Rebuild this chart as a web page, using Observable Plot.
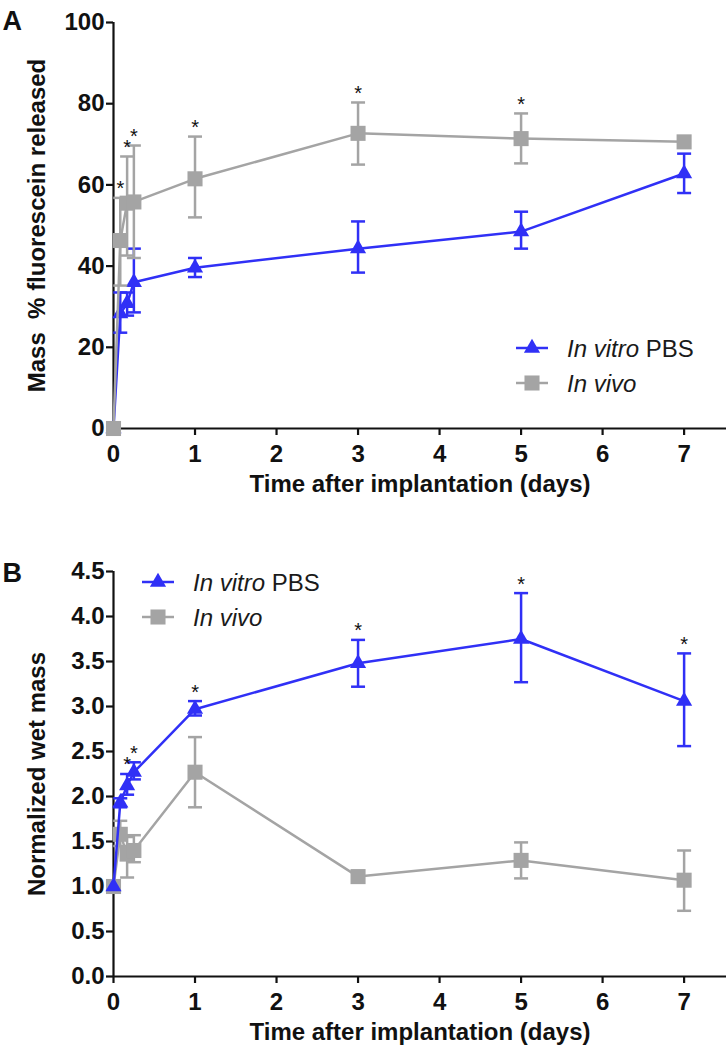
<!DOCTYPE html>
<html><head><meta charset="utf-8">
<script src="https://cdn.jsdelivr.net/npm/d3@7"></script>
<script src="https://cdn.jsdelivr.net/npm/@observablehq/plot@0.6"></script>
<style>
body{margin:0;background:#fff;}
#wrap{width:726px;height:1050px;}
svg{display:block;}
</style></head><body><div id="wrap"></div>
<script>
// ---------- data ----------
const days = [0, 0.083, 0.167, 0.25, 1, 3, 5, 7];
const xTicks = [0, 1, 2, 3, 4, 5, 6, 7];
const seriesNames = ["In vitro PBS", "In vivo"];

// Panel A: Mass % fluorescein released
const aVitro   = [0, 28.3, 30.8, 36.0, 39.6, 44.3, 48.5, 62.8];
const aVitroLo = [null, 23.6, 27.8, 28.6, 37.3, 38.4, 44.3, 58.0];
const aVitroHi = [null, 33.5, 33.5, 44.3, 42.0, 51.0, 53.4, 67.7];
const aVivo    = [0, 46.3, 55.5, 55.8, 61.5, 72.7, 71.4, 70.6];
const aVivoLo  = [null, 35.2, 42.6, 42.0, 52.0, 65.0, 65.3, null];
const aVivoHi  = [null, 56.8, 67.0, 69.7, 71.9, 80.3, 77.6, null];
const aStars   = [false, true, true, true, true, true, true, false]; // above In vivo
const aYTicks  = [0, 20, 40, 60, 80, 100];

// Panel B: Normalized wet mass
const bVitro   = [1.0, 1.93, 2.12, 2.27, 2.97, 3.48, 3.75, 3.06];
const bVitroLo = [null, 1.88, 2.02, 2.19, 2.90, 3.22, 3.27, 2.56];
const bVitroHi = [null, 1.98, 2.25, 2.38, 3.06, 3.74, 4.26, 3.59];
const bVivo    = [1.0, 1.58, 1.36, 1.40, 2.27, 1.11, 1.29, 1.07];
const bVivoLo  = [null, 1.45, 1.10, 1.27, 1.88, null, 1.09, 0.73];
const bVivoHi  = [null, 1.73, 1.55, 1.57, 2.66, null, 1.49, 1.40];
const bStars   = [false, false, true, true, true, true, true, true]; // above In vitro
const bYTicks  = [0, 0.5, 1, 1.5, 2, 2.5, 3, 3.5, 4, 4.5];

// ---------- styling ----------
const BLUE = "#3030f6";
const GRAY = "#a4a4a4";
const FONT = "'Liberation Sans', Arial, Helvetica, sans-serif";
const capSymbol = { draw(ctx) { ctx.moveTo(-7, 0); ctx.lineTo(7, 0); } };

function rows(vals, lo, hi) {
  return days.map((d, i) => ({ day: d, v: vals[i], lo: lo[i], hi: hi[i] }));
}

function seriesMarks(data, color, symbol, r) {
  const err = data.filter(d => d.lo != null && d.hi != null);
  return [
    Plot.ruleX(err, { x: "day", y1: "lo", y2: "hi", stroke: color, strokeWidth: 2.5 }),
    Plot.dot(err, { x: "day", y: "lo", symbol: capSymbol, r: 2, stroke: color, fill: "none", strokeWidth: 2.5 }),
    Plot.dot(err, { x: "day", y: "hi", symbol: capSymbol, r: 2, stroke: color, fill: "none", strokeWidth: 2.5 }),
    Plot.line(data, { x: "day", y: "v", stroke: color, strokeWidth: 2.5 }),
    Plot.dot(data, { x: "day", y: "v", symbol, r, fill: color, stroke: "none" })
  ];
}

function addLegend(svg, x0, y0) {
  const g = d3.select(svg).append("g").attr("font-family", FONT).attr("font-size", 24)
    .attr("font-weight", "normal").attr("text-anchor", "start");
  const entries = [
    { color: BLUE, sym: d3.symbolTriangle, size: Math.PI * 6 * 6, parts: [["In vitro", "italic"], [" PBS", "normal"]] },
    { color: GRAY, sym: d3.symbolSquare, size: Math.PI * 8.5 * 8.5, parts: [["In vivo", "italic"]] }
  ];
  entries.forEach((e, i) => {
    const y = y0 + i * 35;
    g.append("line").attr("x1", x0 - 16).attr("x2", x0 + 16).attr("y1", y).attr("y2", y)
      .attr("stroke", e.color).attr("stroke-width", 2.5);
    g.append("path").attr("d", d3.symbol(e.sym, e.size)()).attr("transform", `translate(${x0},${y})`).attr("fill", e.color);
    const t = g.append("text").attr("x", x0 + 35).attr("y", y).attr("dy", "0.36em")
      .attr("fill", "#1a1a1a").attr("text-anchor", "start");
    e.parts.forEach(([s, st]) => t.append("tspan").attr("font-style", st).text(s));
  });
}

function panel(opts) {
  const vitro = rows(opts.vitro, opts.vitroLo, opts.vitroHi);
  const vivo = rows(opts.vivo, opts.vivoLo, opts.vivoHi);
  const starData = (opts.starOnVitro ? vitro : vivo).filter((d, i) => opts.stars[i]);
  const svg = Plot.plot({
    width: 726,
    height: 525,
    marginLeft: 113,
    marginRight: 0,
    marginTop: opts.marginTop,
    marginBottom: opts.marginBottom,
    style: { fontFamily: FONT, fontSize: "24px", fontWeight: "bold", color: "#111", background: "#fff", overflow: "visible" },
    x: { domain: [0, 7.52] },
    y: { domain: opts.yDomain },
    marks: [
      Plot.axisX({ ticks: xTicks, tickSize: 7, tickPadding: 9, strokeWidth: 2.2, label: null, tickFormat: d3.format("d") }),
      Plot.axisY({ ticks: opts.yTicks, tickSize: 7, tickPadding: 2, strokeWidth: 2.2, label: null, tickFormat: opts.yFormat }),
      Plot.ruleY([opts.yDomain[0]], { stroke: "#111", strokeWidth: 2.2 }),
      Plot.ruleX([0], { stroke: "#111", strokeWidth: 2.2 }),
      ...(opts.vivoFirst ? [...seriesMarks(vivo, GRAY, "square", 8.5), ...seriesMarks(vitro, BLUE, "triangle", 6)]
                         : [...seriesMarks(vitro, BLUE, "triangle", 6), ...seriesMarks(vivo, GRAY, "square", 8.5)]),
      Plot.text(starData, { x: "day", y: "hi", text: () => "*", dy: -9, fontSize: 20, fontWeight: "normal", fill: "#111" }),
      Plot.text([opts.yLabel], { text: d => d, frameAnchor: "left", textAnchor: "middle", dx: -76, rotate: -90, fontSize: 24, fontWeight: "bold" }),
      Plot.text(["Time after implantation (days)"], { text: d => d, frameAnchor: "bottom", dy: 63, fontSize: 24, fontWeight: "bold" }),
      Plot.text([opts.letter], { text: d => d, frameAnchor: "top-left", lineAnchor: "top", dx: -111, dy: opts.letterDy, textAnchor: "start", fontSize: 27, fontWeight: "bold" })
    ]
  });
  addLegend(svg, opts.legendX, opts.legendY);
  return svg;
}

const wrap = document.getElementById("wrap");
wrap.appendChild(panel({
  letter: "A", letterDy: -12,
  vitro: aVitro, vitroLo: aVitroLo, vitroHi: aVitroHi,
  vivo: aVivo, vivoLo: aVivoLo, vivoHi: aVivoHi,
  stars: aStars, starOnVitro: false, vivoFirst: false,
  yDomain: [0, 100], yTicks: aYTicks, yFormat: d3.format("d"),
  yLabel: "Mass  % fluorescein released",
  marginTop: 22, marginBottom: 97,
  legendX: 532, legendY: 348
}));
wrap.appendChild(panel({
  letter: "B", letterDy: -9,
  vitro: bVitro, vitroLo: bVitroLo, vitroHi: bVitroHi,
  vivo: bVivo, vivoLo: bVivoLo, vivoHi: bVivoHi,
  stars: bStars, starOnVitro: true, vivoFirst: true,
  yDomain: [0, 4.5], yTicks: bYTicks, yFormat: d3.format(".1f"),
  yLabel: "Normalized wet mass",
  marginTop: 46, marginBottom: 74,
  legendX: 158, legendY: 57
}));
</script></body></html>
